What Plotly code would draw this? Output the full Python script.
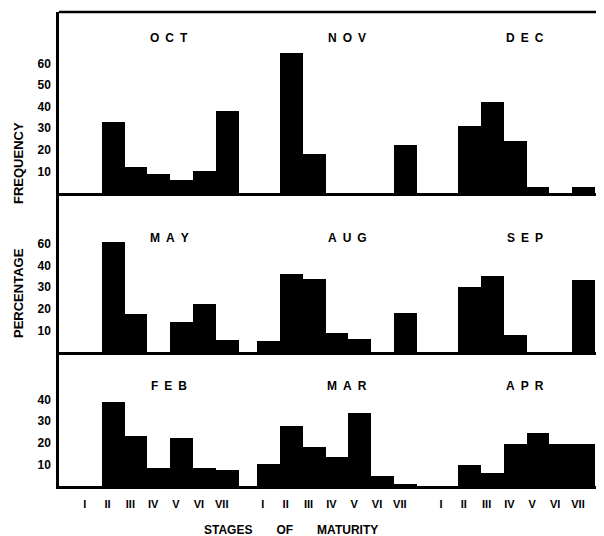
import plotly.graph_objects as go

stages = ["I", "II", "III", "IV", "V", "VI", "VII"]

top_months = ["OCT", "NOV", "DEC"]
oct_vals = [0, 33, 12, 9, 6, 10, 38]
nov_vals = [0, 65, 18, 0, 0, 0, 22]
dec_vals = [0, 31, 42, 24, 3, 0, 3]

mid_months = ["MAY", "AUG", "SEP"]
may_vals = [0, 51, 17.5, 0, 14, 22, 5.5]
aug_vals = [5, 36, 34, 9, 6, 0, 18]
sep_vals = [0, 30, 35, 8, 0, 0, 33.5]

bot_months = ["FEB", "MAR", "APR"]
feb_vals = [0, 39, 23, 8.5, 22, 8.3, 7.4]
mar_vals = [10, 28, 18, 13.5, 34, 4.5, 0.5]
apr_vals = [0, 9.5, 6, 19.5, 24.5, 19.5, 19.5]

top_ticks = [10, 20, 30, 40, 50, 60]
top_ticktext = ["10", "20", "30", "40", "50", "60"]
mid_ticks = [10, 20, 30, 40, 50]
mid_ticktext = ["10", "20", "30", "40", "60"]
bot_ticks = [10, 20, 30, 40]
bot_ticktext = ["10", "20", "30", "40"]

GROUP_STEP = 7.8

def xs(g):
    return [g * GROUP_STEP + i for i in range(len(stages))]

panels = [
    ("x", "y", [oct_vals, nov_vals, dec_vals], top_months),
    ("x2", "y2", [may_vals, aug_vals, sep_vals], mid_months),
    ("x3", "y3", [feb_vals, mar_vals, apr_vals], bot_months),
]

fig = go.Figure()
for xa, ya, series, months in panels:
    for g, (vals, m) in enumerate(zip(series, months)):
        fig.add_trace(go.Bar(x=xs(g), y=vals, width=1.0, name=m,
                             marker=dict(color="black", line=dict(width=0)),
                             xaxis=xa, yaxis=ya, showlegend=False))

H = 474.0
PXU = 2.16
d_bot = [0, 134 / H]
d_mid = [134 / H, 293 / H]
d_top = [293 / H, 1]
xr = [-1.375, 22.49]

FAM = "Liberation Sans"
font_b = dict(family=FAM, size=12, color="black", weight="bold")
line_w = 2.5

common_x = dict(range=xr, showline=True, linecolor="black", linewidth=line_w,
                showgrid=False, zeroline=False, ticks="")
common_y = dict(showline=True, linecolor="black", linewidth=line_w, showgrid=False,
                zeroline=False, ticks="", tickfont=font_b, ticklabelstandoff=3)

all_tickvals = []
all_ticktext = []
for g in range(3):
    all_tickvals += [v - 0.25 for v in xs(g)]
    all_ticktext += stages

# the page body adds an 8px offset, so the figure is sized to fit the window
fig.update_layout(
    width=596, height=528,
    margin=dict(l=51, r=0, t=4, b=50),
    paper_bgcolor="white", plot_bgcolor="white",
    bargap=0,
    xaxis=dict(**common_x, anchor="y", showticklabels=False),
    yaxis=dict(**common_y, domain=d_top, range=[0, 181 / PXU],
               tickvals=top_ticks, ticktext=top_ticktext, anchor="x"),
    xaxis2=dict(**common_x, anchor="y2", showticklabels=False),
    yaxis2=dict(**common_y, domain=d_mid, range=[0, 159 / PXU],
                tickvals=mid_ticks, ticktext=mid_ticktext, anchor="x2"),
    xaxis3=dict(**common_x, anchor="y3", tickvals=all_tickvals, ticktext=all_ticktext,
                tickfont=dict(family=FAM, size=11, color="black", weight="bold"),
                ticklabelstandoff=6),
    yaxis3=dict(**common_y, domain=d_bot, range=[0, 134 / PXU],
                tickvals=bot_ticks, ticktext=bot_ticktext, anchor="x3"),
)

fig.add_shape(type="line", xref="paper", yref="paper", x0=0, x1=1, y0=1, y1=1,
              line=dict(color="black", width=line_w))

title_font = dict(family=FAM, size=12, color="black", weight="bold")
title_y = {0: (486 - 38) / H, 1: (486 - 238) / H, 2: (486 - 386) / H}
for p, (xa, ya, series, months) in enumerate(panels):
    for g, m in enumerate(months):
        fig.add_annotation(x=g * GROUP_STEP + 3.45, y=title_y[p], xref="x", yref="paper",
                           text="\u2002".join(m), showarrow=False, font=title_font,
                           xanchor="center", yanchor="middle")

fig.add_annotation(x=(291 - 59) / 545, y=(486 - 530) / H, xref="paper", yref="paper",
                   text="STAGES\u2003\u2003OF\u2003\u2003MATURITY",
                   showarrow=False, font=dict(family=FAM, size=12, color="black", weight="bold"),
                   xanchor="center", yanchor="middle")
fig.add_annotation(x=(18 - 59) / 545, y=(486 - 163) / H, xref="paper", yref="paper",
                   text="FREQUENCY", textangle=-90, showarrow=False,
                   font=dict(family=FAM, size=13, color="black", weight="bold"),
                   xanchor="center", yanchor="middle")
fig.add_annotation(x=(18 - 59) / 545, y=(486 - 293) / H, xref="paper", yref="paper",
                   text="PERCENTAGE", textangle=-90, showarrow=False,
                   font=dict(family=FAM, size=13, color="black", weight="bold"),
                   xanchor="center", yanchor="middle")

fig.write_html("out.html")
